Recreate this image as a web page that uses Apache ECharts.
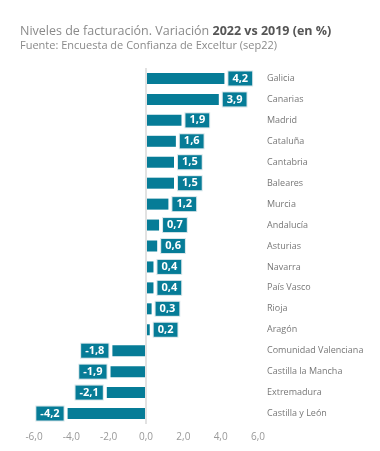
<!DOCTYPE html>
<html><head><meta charset="utf-8">
<script src="https://cdn.jsdelivr.net/npm/echarts@6/dist/echarts.min.js"></script>
<style>html,body{margin:0;padding:0;background:#fff}#c{width:380px;height:451px}</style>
</head><body><div id="c"></div>
<script>
var categories = ["Galicia","Canarias","Madrid","Cataluña","Cantabria","Baleares","Murcia","Andalucía","Asturias","Navarra","País Vasco","Rioja","Aragón","Comunidad Valenciana","Castilla la Mancha","Extremadura","Castilla y León"];
var values = [4.2,3.9,1.9,1.6,1.5,1.5,1.2,0.7,0.6,0.4,0.4,0.3,0.2,-1.8,-1.9,-2.1,-4.2];
var xTicks = [-6,-4,-2,0,2,4,6];
var fmt = function(v){ return v.toFixed(1).replace('.', ','); };
var chart = echarts.init(document.getElementById('c'));
var barColor = '#067c97';
chart.setOption({
  animation: false,
  title: {
    left: 20, top: 25, padding: 0,
    text: '{n|Niveles de facturación. Variación }{b|2022 vs 2019 (en %)}',
    subtext: 'Fuente: Encuesta de Confianza de Exceltur (sep22)',
    itemGap: 2,
    textStyle: { fontWeight: 'normal', rich: {
      n: { fontFamily: 'Open Sans', fontSize: 12.5, fontWeight: 'normal', color: '#8a8a8a' },
      b: { fontFamily: 'Open Sans', fontSize: 12.5, fontWeight: 'bold', color: '#555' }
    }},
    subtextStyle: { fontFamily: 'Open Sans', fontSize: 11, color: '#8a8a8a' }
  },
  grid: { left: 34, right: 122, top: 68, bottom: 27, containLabel: false },
  xAxis: {
    type: 'value', min: -6, max: 6, interval: 2,
    axisLine: { show: false }, axisTick: { show: false }, splitLine: { show: false },
    axisLabel: { color: '#999', fontFamily: 'Open Sans', fontSize: 10, margin: 8,
      formatter: function(v){ return fmt(v); } }
  },
  yAxis: {
    type: 'category', data: categories, inverse: true, position: 'right',
    axisLine: { show: false }, axisTick: { show: false },
    axisLabel: { color: '#777', fontFamily: 'Open Sans', fontSize: 9, margin: 9, align: 'left' }
  },
  series: [{
    type: 'bar', barWidth: 11,
    data: values.map(function(v){
      return { value: v, label: { position: v >= 0 ? 'right' : 'left' } };
    }),
    itemStyle: { color: barColor },
    label: {
      show: true, distance: 4,
      formatter: function(p){ return fmt(p.value); },
      color: '#fff', fontWeight: 'bold', fontFamily: 'Open Sans', fontSize: 11,
      backgroundColor: barColor, borderColor: '#d8e6ea', borderWidth: 1,
      padding: [2, 4, 1, 4]
    },
    markLine: {
      silent: true, symbol: 'none', label: { show: false },
      lineStyle: { color: '#e2e2e2', width: 2, type: 'solid' },
      data: [{ xAxis: 0 }]
    },
    z: 3
  }]
});
</script></body></html>
